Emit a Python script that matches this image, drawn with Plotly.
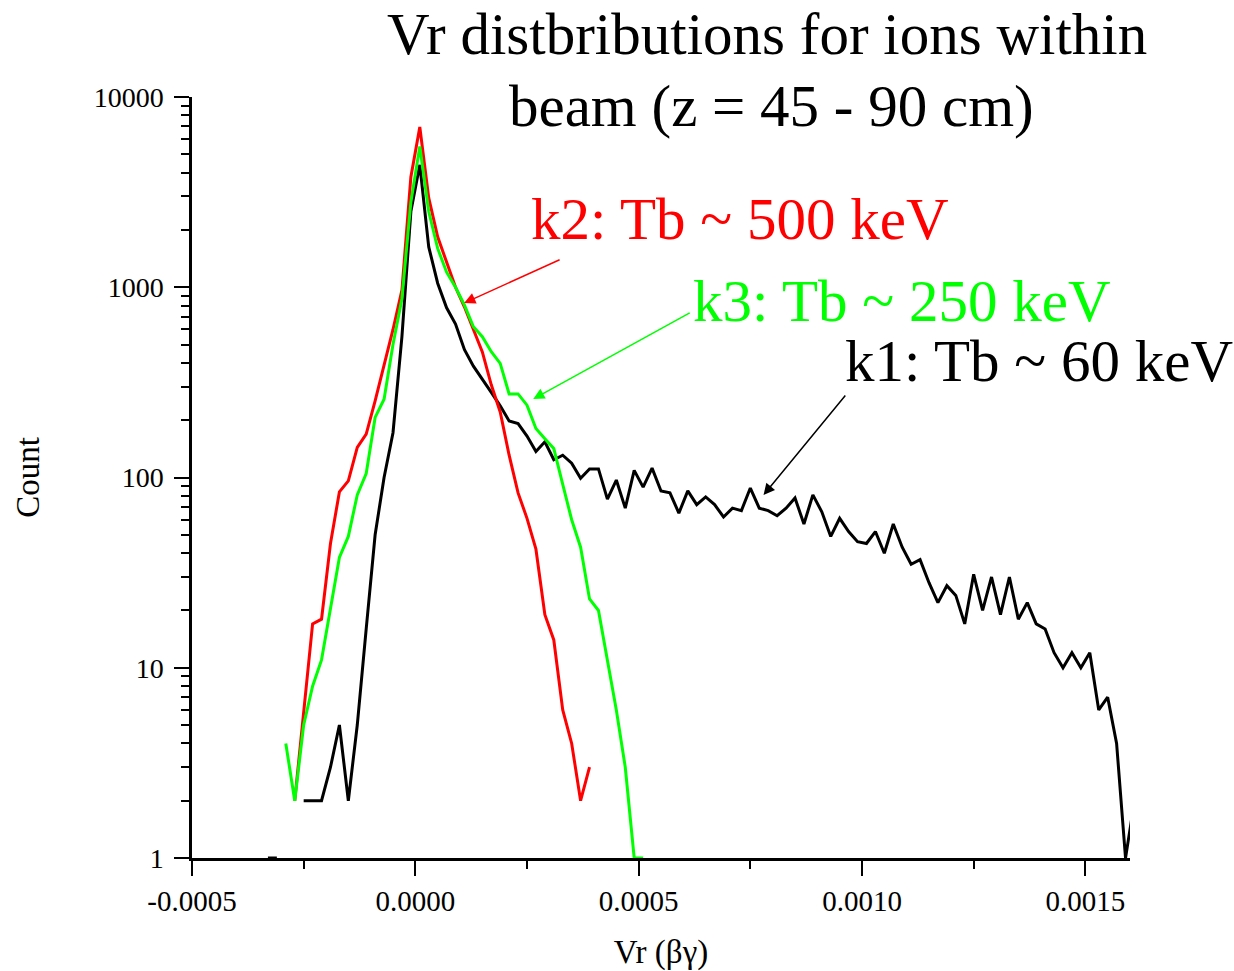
import plotly.graph_objects as go

# ---------------- data ----------------
black_vr = [
    -0.00033, -0.00031, -0.00029, -0.00027, -0.00025, -0.00023, -0.00021, -0.00019, -0.00017, -0.00015,
    -0.00013, -0.00011, -0.00009, -0.00007, -0.00005, -0.00003, -0.00001,
    0.00001, 0.00003, 0.00005, 0.00007, 0.00009, 0.00011, 0.00013, 0.00015, 0.00017, 0.00019,
    0.00021, 0.00023, 0.00025, 0.00027, 0.00029, 0.00031, 0.00033, 0.00035, 0.00037, 0.00039,
    0.00041, 0.00043, 0.00045, 0.00047, 0.00049, 0.00051, 0.00053, 0.00055, 0.00057, 0.00059,
    0.00061, 0.00063, 0.00065, 0.00067, 0.00069, 0.00071, 0.00073, 0.00075, 0.00077, 0.00079,
    0.00081, 0.00083, 0.00085, 0.00087, 0.00089, 0.00091, 0.00093, 0.00095, 0.00097, 0.00099,
    0.00101, 0.00103, 0.00105, 0.00107, 0.00109, 0.00111, 0.00113, 0.00115, 0.00117, 0.00119,
    0.00121, 0.00123, 0.00125, 0.00127, 0.00129, 0.00131, 0.00133, 0.00135, 0.00137, 0.00139,
    0.00141, 0.00143, 0.00145, 0.00147, 0.00149, 0.00151, 0.00153, 0.00155, 0.00157, 0.00159,
    0.00161,
]
black_count = [
    1, 1, None, None, 2, 2, 2, 3, 5, 2,
    5, 16, 50, 100, 172, 550, 2500,
    4400, 1630, 1050, 780, 640, 470, 385, 330, 280, 238,
    198, 192, 165, 137, 154, 124, 131, 119, 99, 111,
    111, 77, 97, 69, 109, 89, 112, 85, 83, 65,
    85, 72, 79, 72, 62, 69, 67, 88, 69, 67,
    63, 69, 78, 57, 81, 66, 49, 61, 52, 46,
    45, 52, 40, 57, 43, 35, 37, 28, 22, 27,
    24, 17, 31, 20, 30, 19, 30, 18, 22, 17,
    16, 12, 10, 12, 10, 12, 6, 7, 4, 1,
    2,
]

red_vr = [
    -0.00027, -0.00025, -0.00023, -0.00021, -0.00019, -0.00017, -0.00015,
    -0.00013, -0.00011, -0.00009, -0.00007, -0.00005, -0.00003, -0.00001,
    0.00001, 0.00003, 0.00005, 0.00007, 0.00009, 0.00011, 0.00013, 0.00015, 0.00017, 0.00019,
    0.00021, 0.00023, 0.00025, 0.00027, 0.00029, 0.00031, 0.00033, 0.00035, 0.00037, 0.00039,
]
red_count = [
    2, 6, 17, 18, 45, 84, 96,
    144, 169, 253, 391, 600, 966, 3800,
    6950, 2950, 1840, 1350, 1000, 787, 596, 457, 307, 221,
    131, 83, 61, 42, 19, 14, 6, 4, 2, 3,
]

green_vr = [
    -0.00029, -0.00027, -0.00025, -0.00023, -0.00021, -0.00019, -0.00017, -0.00015,
    -0.00013, -0.00011, -0.00009, -0.00007, -0.00005, -0.00003, -0.00001,
    0.00001, 0.00003, 0.00005, 0.00007, 0.00009, 0.00011, 0.00013, 0.00015, 0.00017, 0.00019,
    0.00021, 0.00023, 0.00025, 0.00027, 0.00029, 0.00031, 0.00033, 0.00035, 0.00037, 0.00039,
    0.00041, 0.00043, 0.00045, 0.00047, 0.00049, 0.00051,
]
green_count = [
    4, 2, 5, 8, 11, 20, 38, 49,
    81, 105, 207, 258, 500, 870, 2800,
    5500, 2500, 1600, 1200, 1000, 805, 620, 550, 458, 398,
    275, 275, 240, 181, 160, 142, 92, 60, 43, 23,
    20, 11, 6, 3, 1, 1,
]

x_tickvals = [-0.0005, 0.0, 0.0005, 0.0010, 0.0015]
x_ticktext = ["-0.0005", "0.0000", "0.0005", "0.0010", "0.0015"]
y_tickvals = [1, 10, 100, 1000, 10000]
y_ticktext = ["1", "10", "100", "1000", "10000"]

title_lines = ["Vr distbributions for ions within", "beam (z = 45 - 90 cm)"]
labels = ["k2: Tb ~ 500 keV", "k3: Tb ~ 250 keV", "k1: Tb ~ 60 keV"]

FONT = "Liberation Serif, Times New Roman, serif"

fig = go.Figure()
fig.add_trace(go.Scatter(x=black_vr, y=black_count, mode="lines",
                         line=dict(color="black", width=3), connectgaps=False,
                         showlegend=False))
fig.add_trace(go.Scatter(x=red_vr, y=red_count, mode="lines",
                         line=dict(color="#FF0000", width=3), showlegend=False))
fig.add_trace(go.Scatter(x=green_vr, y=green_count, mode="lines",
                         line=dict(color="#00FF00", width=3), showlegend=False))

fig.update_layout(
    width=1234, height=971,
    margin=dict(l=192, r=104, t=97, b=113),
    paper_bgcolor="white", plot_bgcolor="white",
    font=dict(family=FONT, color="black"),
    xaxis=dict(
        range=[-0.0005, 0.0016], automargin=False,
        showline=True, linecolor="black", linewidth=2.5,
        showgrid=False, zeroline=False,
        ticks="outside", ticklen=15, tickwidth=2, tickcolor="black",
        tickvals=x_tickvals, ticktext=x_ticktext,
        tickfont=dict(family=FONT, size=29, color="black"),
        minor=dict(ticks="outside", ticklen=8, tickwidth=2, tickcolor="black",
                   dtick=0.00025, showgrid=False),
        title=dict(text="Vr (βγ)", font=dict(family=FONT, size=33, color="black"),
                   standoff=27),
    ),
    yaxis=dict(
        type="log", range=[0, 4], automargin=False,
        showline=True, linecolor="black", linewidth=2.5,
        showgrid=False, zeroline=False,
        ticks="outside", ticklen=15, tickwidth=2, tickcolor="black",
        tickvals=y_tickvals, ticktext=y_ticktext, ticklabelstandoff=5,
        tickfont=dict(family=FONT, size=28, color="black"),
        minor=dict(ticks="outside", ticklen=8, tickwidth=2, tickcolor="black",
                   dtick="D1", showgrid=False),
        title=dict(text="Count", font=dict(family=FONT, size=33, color="black"),
                   standoff=45),
    ),
)

# title lines
fig.add_annotation(text=title_lines[0], xref="paper", yref="paper",
                   x=(767 - 192) / 938, y=(858.3 - 34) / 761.6,
                   xanchor="center", yanchor="middle", showarrow=False,
                   borderpad=0,
                   font=dict(family=FONT, size=59, color="black"))
fig.add_annotation(text=title_lines[1], xref="paper", yref="paper",
                   x=(771 - 192) / 938, y=(858.3 - 106) / 761.6,
                   xanchor="center", yanchor="middle", showarrow=False,
                   font=dict(family=FONT, size=59, color="black"))

# curve labels
fig.add_annotation(text=labels[0], xref="paper", yref="paper",
                   x=(529 - 192) / 938, y=(858.3 - 219) / 761.6,
                   xanchor="left", yanchor="middle", showarrow=False,
                   font=dict(family=FONT, size=59, color="#FF0000"))
fig.add_annotation(text=labels[1], xref="paper", yref="paper",
                   x=(691 - 192) / 938, y=(858.3 - 301) / 761.6,
                   xanchor="left", yanchor="middle", showarrow=False,
                   font=dict(family=FONT, size=59, color="#00FF00"))
fig.add_annotation(text=labels[2], xref="paper", yref="paper",
                   x=(843 - 192) / 938, y=(858.3 - 361) / 761.6,
                   xanchor="left", yanchor="middle", showarrow=False,
                   font=dict(family=FONT, size=59, color="black"))

# arrows (tip in data coords; log axis annotation y in log10 units)
arrows = [
    (0.0001092, 2.917, 97, -44, "#FF0000"),
    (0.0002639, 2.412, 158, -87, "#00FF00"),
    (0.0007796, 1.908, 83, -101, "black"),
]
for ax_x, ax_y, dx, dy, col in arrows:
    fig.add_annotation(x=ax_x, y=ax_y, xref="x", yref="y", text="",
                       showarrow=True, ax=dx, ay=dy,
                       arrowhead=2, arrowsize=1.5, arrowwidth=1.5, arrowcolor=col)

fig.write_html("out.html")
